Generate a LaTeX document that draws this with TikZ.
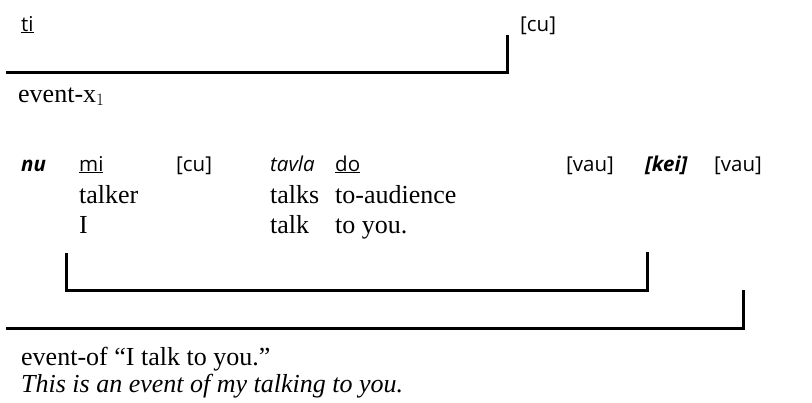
\documentclass[tikz,border=0pt]{standalone}
\usepackage{fontspec}
\setmainfont{Liberation Serif}
\newfontfamily\lojfont{Open Sans}
\tikzset{
  loj/.style={anchor=base west, inner sep=0pt, font=\lojfont\fontsize{20.5}{24}\selectfont},
  gl/.style={anchor=base west, inner sep=0pt, font=\fontsize{26}{30}\selectfont},
  brk/.style={line width=3pt, line cap=rect},
}
\newcommand{\ul}[1]{\underline{#1}}
\begin{document}
\begin{tikzpicture}[x=1pt,y=-1pt]
\useasboundingbox (0,0) rectangle (812,402);
% top line
\node[loj] (ti) at (21,31) {\ul{ti}};
\node[loj] (cu1) at (520,31) {[cu]};
\coordinate (b1a) at (7,72);
\coordinate (b1b) at (507,72);
\coordinate (b1c) at (507,36);
\draw[brk] (b1a) -- (b1b) -- (b1c);
\node[gl] (ex) at (18,102) {event-x$_1$};
% main row
\node[loj] (nu) at (21,171) {\textbf{\textit{nu}}};
\node[loj] (mi) at (79,171) {\ul{mi}};
\node[loj] (cu2) at (176,171) {[cu]};
\node[loj] (tavla) at (270,171) {\textit{tavla}};
\node[loj] (do) at (335,171) {\ul{do}};
\node[loj] (vau1) at (566,171) {[vau]};
\node[loj] (kei) at (645,171) {\textbf{\textit{[kei]}}};
\node[loj] (vau2) at (714,171) {[vau]};
\node[gl] (talker) at (79,203) {talker};
\node[gl] (talks) at (270,203) {talks};
\node[gl] (toaud) at (335,203) {to-audience};
\node[gl] (I) at (79,233) {I};
\node[gl] (talk) at (270,233) {talk};
\node[gl] (toyou) at (335,233) {to you.};
% bracket 2
\coordinate (b2a) at (66,254);
\coordinate (b2b) at (66,290);
\coordinate (b2c) at (647,290);
\coordinate (b2d) at (647,253);
\draw[brk] (b2a) -- (b2b) -- (b2c) -- (b2d);
% bracket 3
\coordinate (b3a) at (7,328);
\coordinate (b3b) at (743,328);
\coordinate (b3c) at (743,291);
\draw[brk] (b3a) -- (b3b) -- (b3c);
\node[gl] (evof) at (21,365) {event-of “I talk to you.”};
\node[gl] (this) at (21,392) {\textit{This is an event of my talking to you.}};
\end{tikzpicture}
\end{document}
